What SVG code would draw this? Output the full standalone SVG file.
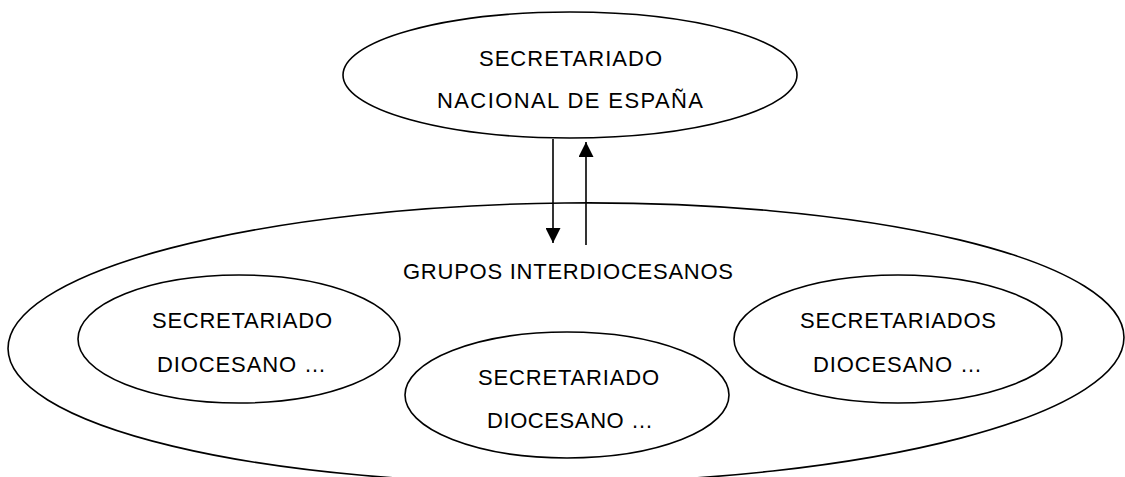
<svg xmlns="http://www.w3.org/2000/svg" width="1125" height="477" viewBox="0 0 1125 477">
<style>
.shape{fill:none;stroke:#000;stroke-width:1.6}
.lbl{font-family:"Liberation Sans",Arial,sans-serif;font-size:22px;fill:#000;text-anchor:middle}
.conn{stroke:#000;stroke-width:1.6;fill:none}
</style>
<defs>
<marker id="arr" markerUnits="userSpaceOnUse" markerWidth="15" markerHeight="15" viewBox="0 0 15 15" refX="15" refY="7.5" orient="auto">
<path d="M0,0 L15,7.5 L0,15 z" fill="#000"/>
</marker>
</defs>
<rect width="1125" height="477" fill="#fff"/>
<g id="grupos">
<ellipse class="shape" cx="566" cy="343" rx="558" ry="140" transform="rotate(-0.6 566 343)"/>
<text class="lbl" x="568" y="279" textLength="330" lengthAdjust="spacing">GRUPOS INTERDIOCESANOS</text>
</g>
<g id="nacional">
<ellipse class="shape" cx="570" cy="75" rx="227" ry="63"/>
<text class="lbl" x="570.5" y="66" textLength="183" lengthAdjust="spacing">SECRETARIADO</text>
<text class="lbl" x="570" y="108" textLength="266" lengthAdjust="spacing">NACIONAL DE ESPAÑA</text>
</g>
<g id="diocesano-izq">
<ellipse class="shape" cx="239" cy="339" rx="161" ry="64"/>
<text class="lbl" x="242" y="328" textLength="180" lengthAdjust="spacing">SECRETARIADO</text>
<text class="lbl" x="241.5" y="372" textLength="169" lengthAdjust="spacing">DIOCESANO …</text>
</g>
<g id="diocesano-centro">
<ellipse class="shape" cx="567" cy="395" rx="162" ry="63"/>
<text class="lbl" x="568.5" y="385" textLength="181" lengthAdjust="spacing">SECRETARIADO</text>
<text class="lbl" x="570" y="428" textLength="166" lengthAdjust="spacing">DIOCESANO …</text>
</g>
<g id="diocesano-der">
<ellipse class="shape" cx="898" cy="339" rx="164" ry="64"/>
<text class="lbl" x="898" y="328" textLength="196" lengthAdjust="spacing">SECRETARIADOS</text>
<text class="lbl" x="897.5" y="372" textLength="169" lengthAdjust="spacing">DIOCESANO …</text>
</g>
<g id="connectors">
<line class="conn" x1="553" y1="139" x2="553" y2="243" marker-end="url(#arr)"/>
<line class="conn" x1="586" y1="245" x2="586" y2="142" marker-end="url(#arr)"/>
</g>
</svg>
